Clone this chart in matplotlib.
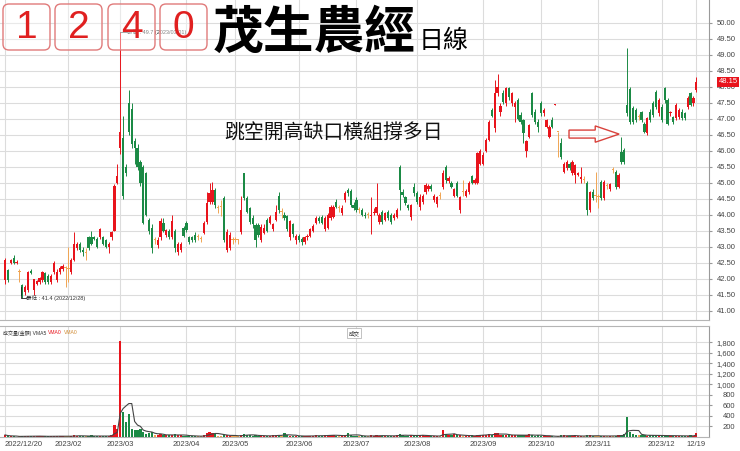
import matplotlib
matplotlib.use("Agg")
import matplotlib.pyplot as plt
import matplotlib.transforms as mtransforms
from matplotlib.patches import FancyBboxPatch, FancyArrow
import numpy as np
import pandas as pd

plt.rcParams['font.family'] = ['Liberation Sans', 'Noto Sans CJK TC', 'DejaVu Sans']

# ---------------- data ----------------
opens = [41.95,42.27,42.50,42.65,42.48,42.20,41.80,41.60,41.65,42.25,41.65,41.85,41.90,41.96,42.17,42.10,41.90,42.20,41.95,42.20,42.30,42.35,
 42.30,42.20,42.60,42.95,43.10,42.90,42.80,43.30,43.30,43.30,43.25,43.30,43.30,43.20,43.00,43.30,43.50,45.00,
 46.10,46.40,45.50,47.50,47.30,46.30,46.10,45.65,45.50,45.30,43.85,43.60,43.20,43.05,43.30,43.75,43.37,43.50,43.30,43.50,42.85,42.90,43.60,
 43.73,43.30,43.30,43.37,43.30,43.25,43.42,43.78,44.41,44.41,44.77,44.20,44.25,44.51,42.90,42.95,43.20,
 43.20,43.20,43.47,45.29,44.51,44.20,43.90,43.68,43.68,43.20,43.42,43.85,43.73,43.55,43.84,44.60,44.10,44.00,43.95,43.30,43.70,43.20,
 43.35,43.25,43.15,43.30,43.35,43.50,43.73,43.90,43.94,43.55,43.60,43.90,43.94,44.41,44.20,44.05,44.46,44.77,44.75,44.30,
 44.46,44.15,44.15,44.00,44.00,43.96,44.05,44.04,43.78,44.10,43.84,44.10,43.99,43.90,43.94,45.50,44.72,44.56,44.30,43.94,44.88,
 44.67,44.25,44.40,44.72,44.80,44.90,44.46,44.35,44.60,44.88,45.50,45.05,45.00,44.60,45.00,44.15,44.70,44.60,44.72,45.20,45.00,45.00,45.60,
 45.60,46.00,46.33,47.27,46.70,47.80,47.20,47.79,47.48,47.95,47.48,47.38,47.58,47.12,46.96,46.00,46.44,47.79,47.22,46.90,
 47.48,47.17,46.75,46.44,46.96,47.43,46.60,46.23,45.35,45.45,45.60,45.29,45.24,45.24,45.13,45.10,45.00,44.15,44.72,44.60,
 44.55,45.03,44.51,44.90,44.80,45.40,45.34,44.88,45.97,46.02,47.43,47.92,47.32,47.27,47.06,47.20,46.85,46.54,47.22,47.48,47.84,47.17,
 47.38,47.95,47.58,47.17,47.06,47.01,47.06,47.22,47.17,47.38,47.79,47.48,47.90]
highs = [42.65,42.30,42.62,42.75,42.60,42.30,41.85,41.80,42.25,42.30,42.00,41.95,42.05,42.25,42.20,42.15,42.15,42.55,42.30,42.40,42.45,42.40,
 43.00,42.65,43.45,43.15,43.15,43.00,42.95,43.35,43.50,43.35,43.30,43.60,43.35,43.25,43.15,43.50,44.95,45.60,
 49.70,47.10,45.60,47.90,47.50,46.40,46.20,45.70,45.55,45.35,43.90,43.70,43.30,43.30,43.90,43.90,43.55,43.55,44.00,43.55,43.15,43.15,43.65,
 43.80,43.35,43.35,43.45,43.40,43.35,43.80,44.70,44.98,45.03,44.85,44.30,44.45,44.60,43.55,43.45,43.30,
 43.30,43.25,44.60,45.30,44.60,44.25,44.00,43.75,43.75,43.70,43.70,43.90,44.00,43.75,44.30,44.70,44.20,44.10,44.00,43.85,43.75,43.40,
 43.40,43.30,43.35,43.40,43.60,43.70,43.95,43.95,44.00,43.95,44.05,44.30,44.30,44.50,44.30,44.30,44.75,44.85,44.80,44.40,
 44.55,44.25,44.20,44.10,44.10,44.55,44.20,44.98,44.05,44.15,44.10,44.15,44.05,44.05,44.20,45.55,44.80,44.60,44.35,44.35,44.98,
 44.75,44.65,44.65,45.00,44.95,44.95,44.65,44.60,44.70,45.40,45.55,45.20,45.05,44.85,45.05,44.60,45.10,44.80,45.05,45.25,45.15,45.95,46.05,
 45.95,46.40,46.95,47.35,48.20,48.40,47.50,47.90,48.00,48.00,47.85,47.55,47.65,47.20,47.00,46.35,46.85,47.85,47.30,47.00,
 47.55,47.35,47.00,46.80,47.05,47.47,46.60,46.40,45.65,45.70,45.65,45.70,45.60,45.35,45.50,45.20,45.05,44.75,44.80,45.35,
 44.65,45.10,45.10,45.00,45.00,45.50,45.40,45.30,46.44,46.10,49.20,48.00,47.40,47.35,47.15,47.25,46.90,47.05,47.30,47.55,47.90,47.65,
 47.45,48.00,47.65,47.25,47.10,47.50,47.35,47.30,47.20,47.70,47.85,47.70,48.30]
lows = [41.85,41.90,42.45,42.45,42.45,41.90,41.40,41.50,41.60,42.15,41.50,41.80,41.85,41.90,41.85,41.85,41.85,42.15,41.90,42.15,42.25,41.75,
 41.90,42.15,42.55,42.90,42.85,42.70,42.60,42.90,43.05,43.20,42.95,43.25,43.05,42.95,42.80,43.20,43.50,44.95,
 45.90,44.50,45.20,46.50,46.10,45.60,45.40,44.90,43.70,43.95,43.40,42.80,43.10,42.95,43.20,43.45,43.30,43.25,43.25,42.85,42.75,42.85,43.30,
 43.45,43.10,43.15,43.15,43.20,43.15,43.40,43.70,44.35,44.35,44.20,44.05,43.95,43.15,42.85,42.90,43.10,
 43.15,43.10,43.40,44.45,44.05,43.70,43.60,43.00,43.30,43.15,43.40,43.45,43.70,43.50,43.80,44.05,43.90,43.85,43.50,43.20,43.30,43.10,
 43.15,43.05,43.10,43.20,43.30,43.45,43.70,43.75,43.70,43.50,43.55,43.85,43.90,44.20,44.10,44.00,44.40,44.60,44.25,44.15,
 44.10,44.05,43.95,43.90,43.90,43.40,44.00,44.00,43.70,43.70,43.80,43.85,43.70,43.85,43.90,44.15,44.55,44.30,44.15,43.85,44.60,
 44.35,44.15,44.35,44.65,44.75,44.75,44.40,44.25,44.50,44.80,45.00,45.00,44.85,44.55,44.55,44.04,44.60,44.55,44.65,44.95,44.95,44.95,45.55,
 45.55,45.95,46.30,47.05,46.60,47.70,47.10,47.45,47.40,47.60,47.40,46.90,46.95,46.85,46.23,45.80,46.40,47.05,46.85,46.60,
 47.10,47.10,46.70,46.40,46.70,47.43,45.80,45.75,45.30,45.40,45.40,45.25,45.00,45.20,45.00,45.00,44.00,44.10,44.45,44.40,
 44.20,44.45,44.45,44.80,44.75,45.30,44.80,44.85,45.60,45.60,47.10,46.85,46.85,46.90,46.95,46.90,46.55,46.50,46.90,47.05,47.30,47.10,
 46.90,47.50,46.80,47.10,46.85,46.95,47.00,46.95,46.95,47.30,47.40,47.40,47.85]
closes = [42.58,41.96,42.58,42.50,42.52,42.20,41.45,41.75,42.20,42.18,41.98,41.92,42.02,42.20,41.90,41.90,42.10,42.50,42.20,42.35,42.40,42.35,
 42.30,42.60,43.10,43.10,42.90,42.85,42.80,42.95,43.10,43.25,43.00,43.55,43.10,43.00,43.10,43.45,44.90,45.20,
 46.60,44.60,45.30,46.60,46.20,46.10,45.50,44.98,43.75,44.00,43.50,42.95,43.20,43.20,43.80,43.50,43.52,43.30,43.80,42.95,43.10,43.10,43.35,
 43.52,43.15,43.20,43.21,43.30,43.25,43.73,44.36,44.67,44.77,44.30,44.20,44.25,43.21,43.47,43.37,43.20,
 43.20,43.20,44.15,44.51,44.10,43.78,43.70,43.21,43.37,43.63,43.60,43.50,43.94,43.70,44.10,44.15,44.10,43.90,43.55,43.80,43.40,43.35,
 43.20,43.15,43.30,43.35,43.55,43.65,43.89,43.80,43.73,43.90,44.00,44.25,44.25,44.25,44.20,44.20,44.67,44.67,44.30,44.20,
 44.15,44.15,43.99,43.95,44.00,44.00,44.10,44.25,43.99,43.78,44.04,43.90,43.78,44.00,44.15,44.77,44.62,44.36,44.20,44.30,44.67,
 44.41,44.56,44.60,44.93,44.90,44.80,44.60,44.56,44.60,45.29,45.08,45.15,44.88,44.80,44.60,44.56,44.70,44.75,45.00,45.00,45.10,45.92,46.00,
 45.87,46.33,46.90,47.10,47.80,48.00,47.40,47.53,47.95,47.69,47.79,47.48,47.00,46.90,46.54,46.30,46.80,47.12,46.90,46.75,
 47.17,47.27,46.96,46.75,46.75,47.47,46.60,45.80,45.60,45.66,45.45,45.66,45.55,45.30,45.18,45.10,44.15,44.72,44.51,44.60,
 44.55,44.51,45.03,44.90,44.95,45.40,44.88,45.24,45.66,45.66,47.17,46.91,46.91,46.96,47.06,46.96,46.59,47.01,46.96,47.12,47.38,47.58,
 46.96,47.58,46.85,47.20,46.91,47.43,47.27,47.01,47.01,47.64,47.43,47.64,48.15]
volumes = [40,15,10,15,8,10,20,10,25,15,20,10,12,15,15,12,15,20,10,18,12,10,
 15,20,35,25,20,12,10,25,30,15,12,18,25,20,15,30,220,160,
 1830,470,280,445,160,125,125,160,90,60,75,90,45,40,50,35,30,45,40,60,35,30,25,
 25,20,18,15,12,15,30,70,90,85,60,25,20,45,40,25,20,
 15,20,45,55,40,35,25,30,20,25,18,20,25,30,35,40,25,80,30,25,20,18,
 20,15,18,20,25,22,30,20,25,30,35,40,35,25,15,20,30,80,40,25,
 25,15,20,15,12,30,15,40,25,20,25,20,18,25,30,60,30,25,15,35,40,
 30,25,35,20,15,20,25,15,20,125,60,40,30,50,35,40,20,15,25,30,20,45,40,
 40,45,50,35,75,80,40,35,45,30,40,30,35,40,35,30,50,35,25,40,
 25,20,15,20,15,5,10,35,40,25,15,20,35,15,10,10,40,30,20,15,
 15,20,25,15,20,15,25,30,45,50,390,90,60,35,40,30,35,25,30,35,30,20,
 25,30,20,25,15,20,25,15,20,25,30,20,85]
month_idx = [22, 40, 63, 80, 102, 122, 143, 166, 186, 206, 228, 240]
month_lbl = ['2023/02', '2023/03', '2023/04', '2023/05', '2023/06', '2023/07',
             '2023/08', '2023/09', '2023/10', '2023/11', '2023/12', '12/19']
first_lbl = '2022/12/20'
price_ticks = [41.0 + 0.5 * k for k in range(19)]
vol_ticks = [200, 400, 600, 800, 1000, 1200, 1400, 1600, 1800]
stock_code = ['1', '2', '4', '0']
stock_name = '茂生農經'
period = '日線'
note = '跳空開高缺口橫組撐多日'
high_note = '最高 : 49.7 (2023/03/01)'
low_note = '最低 : 41.4 (2022/12/28)'
vol_header = [('成交量(金額) VMA5', '#333333'), ('VMA0', '#e8141c'), ('VMA0', '#d08a30')]

# ---------------- figure ----------------
W, H = 740, 451
fig = plt.figure(figsize=(W / 100, H / 100), dpi=100)
fig.patch.set_facecolor('white')
pix = mtransforms.Affine2D().scale(1, -1).translate(0, H)  # pixel coords, y down

RED, GREEN, ORANGE = '#e8141c', '#1b8a45', '#f0a552'
GRID = '#dcdcdc'

o = np.array(opens); h = np.array(highs); l = np.array(lows); c = np.array(closes)
v = np.array(volumes)
n = len(c)
idx = np.arange(n)
cols = np.where(c > o, RED, np.where(c < o, GREEN, ORANGE))

ax = fig.add_axes([0, 1 - 320 / H, 709 / W, 320 / H])
axv = fig.add_axes([0, 1 - 437 / H, 709 / W, (437 - 326) / H])

for a in (ax, axv):
    a.set_xlim(-1.74, 244.4)
    for s in ('left', 'top'):
        a.spines[s].set_visible(False)
    a.spines['right'].set_color('#9a9a9a')
    a.spines['bottom'].set_color('#b5b5b5')
    a.set_xticks([0] + month_idx)
    a.grid(True, color=GRID, lw=0.8)
    a.set_axisbelow(True)
    a.yaxis.tick_right()
    a.tick_params(axis='y', length=2, pad=17, labelsize=5.5, labelcolor='#444', color='#999')
    a.tick_params(axis='x', length=0)

# price panel
ax.set_ylim(40.71, 50.71)
ax.set_yticks(price_ticks)
ax.set_yticklabels([f'{t:.2f}' for t in price_ticks])
for lab in ax.get_yticklabels():
    lab.set_horizontalalignment('right')
ax.set_xticklabels([])
ax.vlines(idx, l, h, colors=cols, lw=0.7, zorder=2)
body = np.maximum(np.abs(c - o), 0.03)
ax.bar(idx, body, bottom=np.minimum(o, c), width=0.78, color=cols, lw=0, zorder=3)

# last price tag
bt = mtransforms.blended_transform_factory(ax.transAxes, ax.transData)
ax.text(1.0 + 19 / 709, c[-1], f'{c[-1]:.2f}', transform=bt, ha='center', va='center',
        fontsize=5.5, color='white', clip_on=False, zorder=5,
        bbox=dict(boxstyle='square,pad=0.15', fc='#e8141c', ec='none'))

# high / low notes
hi = int(np.argmax(h)); lo = int(np.argmin(l))
ax.plot([hi, hi + 2.2], [h[hi], h[hi]], color='#333', lw=0.5, zorder=4)
ax.text(hi + 2.5, h[hi], high_note, fontsize=4, color='#333', va='center', ha='left', zorder=4)
ax.plot([lo - 0.5, lo - 0.5, lo + 1.2], [l[lo] + 0.35, l[lo], l[lo]], color='#222', lw=0.6, zorder=4)
ax.text(lo + 1.4, l[lo], low_note, fontsize=4, color='#333', va='center', ha='left', zorder=4)

# annotation and arrow
ax.text(76, 46.54, note, fontsize=14.3, color='#111', va='center', ha='left',
        family=['Noto Sans CJK TC', 'DejaVu Sans'], zorder=4)
ax.add_patch(FancyArrow(195.8, 46.52, 17.4, 0, width=0.25, head_width=0.51, head_length=8.3,
                        length_includes_head=True, fill=False, ec='#d9423c', lw=1.0, zorder=4))

# volume panel
axv.set_ylim(0, 2114)
axv.set_yticks(vol_ticks)
axv.set_yticklabels([f'{t:,}' for t in vol_ticks])
for lab in axv.get_yticklabels():
    lab.set_horizontalalignment('right')
axv.set_xticklabels([first_lbl] + month_lbl, fontsize=5.5, color='#444')
axv.tick_params(axis='x', pad=3)
axv.get_xticklabels()[0].set_horizontalalignment('left')
axv.bar(idx, v, width=0.78, color=cols, lw=0, zorder=3)
ma5 = pd.Series(v).rolling(5, min_periods=1).mean()
axv.plot(idx, ma5, color='#444', lw=0.8, zorder=4)
axv.spines['top'].set_visible(True)
axv.spines['top'].set_color('#b5b5b5')

# volume header, chained so the pieces never overlap
anchor = fig.text(3, 333, vol_header[0][0], transform=pix, fontsize=3.6,
                  color=vol_header[0][1], va='center', ha='left')
for txt, col in vol_header[1:]:
    anchor = axv.annotate(txt, xy=(1, 0.5), xycoords=anchor, xytext=(1.5, 0),
                          textcoords='offset points', fontsize=3.6, color=col,
                          va='center', ha='left', annotation_clip=False)
fig.text(354, 333, '成交', transform=pix, fontsize=4, color='#333', va='center', ha='center',
         bbox=dict(boxstyle='square,pad=0.3', fc='white', ec='#aaa', lw=0.5))

# title: code boxes
box_x = [3, 55, 108, 160]
for bx, d in zip(box_x, stock_code):
    fig.add_artist(FancyBboxPatch((bx, 4), 47, 46, boxstyle='round,pad=0,rounding_size=6',
                                  transform=pix, fc=(1, 1, 1, 0.4), ec='#e07a7a', lw=1.0))
    fig.text(bx + 23.5, 28, d, transform=pix, fontsize=28, color='#e02020',
             ha='center', va='center', family=['Liberation Sans'])
fig.text(213, 33, stock_name, transform=pix, fontsize=36.5, fontweight='bold', color='black',
         ha='left', va='center', family=['Noto Sans CJK TC', 'DejaVu Sans'])
fig.text(419, 41, period, transform=pix, fontsize=18, color='black',
         ha='left', va='center', family=['Noto Sans CJK TC', 'DejaVu Sans'])

fig.savefig('out.png', dpi=100, facecolor='white')
